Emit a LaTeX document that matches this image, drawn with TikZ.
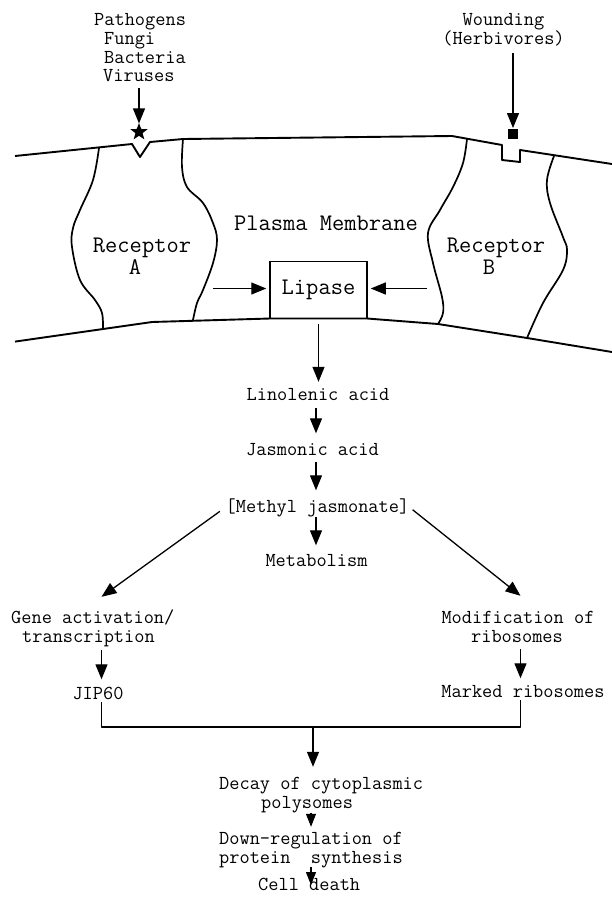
\documentclass[tikz,border=0pt]{standalone}
\usepackage{fontspec}
\usetikzlibrary{arrows.meta,shapes.geometric}
\begin{document}
\begin{tikzpicture}[x=1pt,y=-1pt,
  lbl/.style={font=\ttfamily\fontsize{19.8}{20}\selectfont,inner sep=0pt,text height=12.5pt,text depth=3pt,anchor=base},
  big/.style={font=\ttfamily\fontsize{23.8}{24}\selectfont,inner sep=0pt,text height=15pt,text depth=4.2pt,anchor=base},
  arr/.style={line width=1.3pt,-{Triangle[length=15pt,width=12pt]}},
  sarr/.style={line width=1.2pt,-{Triangle[length=13pt,width=10pt]}},
  memb/.style={line width=1.9pt,line join=round},
  recside/.style={line width=1.7pt},
  link/.style={line width=1.3pt},
]
\useasboundingbox (0,0) rectangle (612,900);

% ---------- top labels ----------
\node[lbl,anchor=base west] (path) at (94,25.5) {Pathogens};
\node[lbl,anchor=base west] (fun) at (104,44.5) {Fungi};
\node[lbl,anchor=base west] (bac) at (104,63) {Bacteria};
\node[lbl,anchor=base west] (vir) at (103,81.5) {Viruses};
\node[lbl] (wound) at (503.5,25.5) {Wounding};
\node[lbl] (herb) at (503.5,44.5) {(Herbivores)};

\node[star,star points=5,star point ratio=2.4,fill,minimum size=18pt,inner sep=0pt] (star) at (139,132) {};
\node[fill,minimum size=10.5pt,inner sep=0pt] (sq) at (513,134) {};

\draw[arr,shorten <=3.4pt,shorten >=-1pt] (vir.south -| star.north) -- (star.north);
\draw[arr,shorten <=5.4pt,shorten >=0.5pt] (herb.south -| sq.north) -- (sq.north);

% ---------- membrane ----------
\draw[memb] (15,156) -- (132,144) -- (140,157) -- (150,142) -- (183,139)
  -- (452,136) -- (502,145) -- (502,160) -- (520,162) -- (520,150) -- (612,164);
\draw[memb] (15,341.6) -- (152,322) -- (270,318.5) -- (367,318.5) -- (438,324)
  -- (527,338) -- (612,352);

% receptor A
\draw[recside] plot[smooth,tension=0.6] coordinates {(99,148) (93,180) (80,210) (73,228) (72,247) (80,280) (95,300) (102,313) (103,329)};
\draw[recside] plot[smooth,tension=0.6] coordinates {(183,139) (182,167) (187,187) (203,203) (213,223) (217,240) (213,263) (203,290) (197,303) (193,320)};
% receptor B
\draw[recside] plot[smooth,tension=0.6] coordinates {(467,139) (463,163) (453,187) (440,210) (428,233) (433,263) (442,297) (443,313) (438,324)};
\draw[recside] plot[smooth,tension=0.6] coordinates {(554,156) (547,180) (550,203) (563,237) (567,250) (563,270) (543,303) (527,338)};

\node[big] (pm) at (326,230) {Plasma Membrane};
\node[big] (recA) at (142,252) {Receptor};
\node[big] (recAl) at (135,274.5) {A};
\node[big] (recB) at (496,252) {Receptor};
\node[big] (recBl) at (489,274.5) {B};

\node[draw,line width=1.5pt,minimum width=97pt,minimum height=57pt,inner sep=0pt,
  font=\ttfamily\fontsize{23.8}{24}\selectfont] (lipase) at (318.5,289.75) {Lipase};

\coordinate (inA) at (213,288.5);
\coordinate (inB) at (427,288.5);
\draw[arr,shorten >=3pt] (inA) -- (inA -| lipase.west);
\draw[arr,shorten >=3pt] (inB) -- (inB -| lipase.east);

% ---------- pathway ----------
\coordinate (col) at (316,0);
\node[lbl] (lin) at (318,400) {Linolenic acid};
\node[lbl] (jas) at (312.5,455) {Jasmonic acid};
\node[lbl] (meth) at (317.5,512) {[Methyl jasmonate]};
\node[lbl] (metab) at (316.5,566) {Metabolism};

\draw[arr,shorten <=5pt,shorten >=5.5pt] (lipase.south) -- (lipase.south |- lin.north);
\draw[arr,shorten <=5pt,shorten >=9pt] (lin.south -| col) -- (jas.north -| col);
\draw[arr,shorten <=4pt,shorten >=9pt] (jas.south -| col) -- (meth.north -| col);
\draw[arr,shorten <=2pt,shorten >=8pt] (meth.south -| col) -- (metab.north -| col);

\coordinate (lcol) at (101.5,0);
\coordinate (rcol) at (520.5,0);
\node[lbl,anchor=base west] (gene) at (11,623.5) {Gene activation/};
\node[lbl,anchor=base west] (trans) at (22,642) {transcription};
\node[lbl] (modif) at (518,623.5) {Modification of};
\node[lbl] (ribo) at (517,642) {ribosomes};

\draw[arr,shorten <=7pt] (meth.west) -- ([yshift=14pt]gene.north -| lcol);
\draw[arr,shorten <=4pt] (meth.east) -- ([yshift=15pt]modif.north -| rcol);

\node[lbl] (jip) at (98,699) {JIP60};
\node[lbl] (marked) at (523,697) {Marked ribosomes};

\draw[arr,shorten <=5pt,shorten >=7pt] (trans.south -| lcol) -- (jip.north -| lcol);
\draw[arr,shorten <=4pt,shorten >=6pt] (ribo.south -| rcol) -- (marked.north -| rcol);

\coordinate (join) at (313,727);
\draw[link,line join=round] (jip.south -| lcol) -- (lcol |- join) -- (rcol |- join) -- (marked.south -| rcol);

\node[lbl,anchor=base west] (decay) at (219,789.5) {Decay of cytoplasmic};
\node[lbl,anchor=base west] (poly) at (261,808) {polysomes};
\node[lbl,anchor=base west] (down) at (219,844.5) {Down-regulation of};
\node[lbl,anchor=base west] (prot) at (219,863) {protein~~synthesis};
\node[lbl,anchor=base west] (cell) at (258,890) {Cell death};

\coordinate (col2) at (311,0);
\draw[arr,shorten >=10pt] (join) -- (decay.north -| join);
\draw[sarr,shorten <=1.5pt,shorten >=5pt] (poly.south -| col2) -- (down.north -| col2);
\draw[sarr,shorten <=1pt,shorten >=5pt] (prot.south -| col2) -- (cell.base -| col2);
\end{tikzpicture}
\end{document}
